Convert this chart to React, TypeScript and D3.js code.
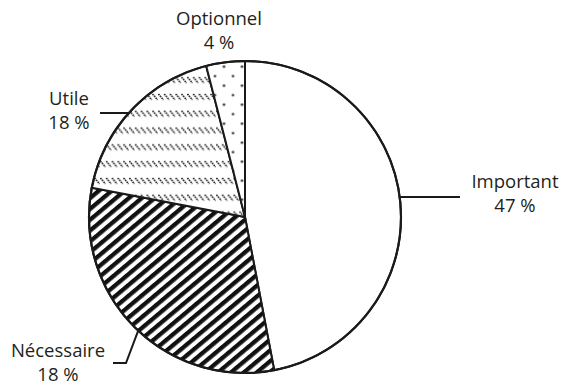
import React from 'react';
import * as d3 from 'd3';

// Slice shares (percent of the whole) in clockwise order from 12 o'clock
const categories = ['Important', 'Nécessaire', 'Utile', 'Optionnel'];
const shares = [47, 31, 18, 4];
// Percentages printed under each category name
const percentLabels = ['47 %', '18 %', '18 %', '4 %'];
const fills = ['#ffffff', 'url(#stripes)', 'url(#dashes)', 'url(#dots)'];

const W = 562;
const H = 385;
const cx = 245;
const cy = 217;
const R = 156;

// Label placement (centre x, first baseline y)
const labelPos = [
  { x: 515, y: 188 },
  { x: 58, y: 357 },
  { x: 69, y: 105 },
  { x: 219, y: 25 },
];

// Leader lines: anchor angle on the rim (degrees, clockwise from top) and the path toward the label
const leaders: ({ angle: number; tail: [number, number][] } | null)[] = [
  { angle: 82.6, tail: [[460, 197]] },
  { angle: 223.2, tail: [[126, 363], [113, 363]] },
  { angle: 311.8, tail: [[100, 113]] },
  null,
];

const rim = (deg: number): [number, number] => {
  const a = (deg * Math.PI) / 180;
  return [cx + R * Math.sin(a), cy - R * Math.cos(a)];
};

export default function App() {
  const pie = d3.pie<number>().sort(null).value((d) => d)(shares);
  const arc = d3.arc<d3.PieArcDatum<number>>().innerRadius(0).outerRadius(R);
  const line = d3.line();
  const textColor = '#231f20';

  return (
    <svg
      width={W}
      height={H}
      style={{ position: 'absolute', left: 0, top: 0, background: '#fff' }}
      fontFamily="'Open Sans', sans-serif"
    >
      <defs>
        <pattern
          id="stripes"
          patternUnits="userSpaceOnUse"
          width={8.3}
          height={8.3}
          patternTransform="rotate(50)"
        >
          <rect width={8.3} height={8.3} fill="#fff" />
          <line x1={2.15} y1={-1} x2={2.15} y2={9.3} stroke="#111" strokeWidth={4.3} />
        </pattern>
        <pattern id="dashes" patternUnits="userSpaceOnUse" x={0} y={128} width={5.8} height={16.8}>
          <rect width={5.8} height={16.8} fill="#fff" />
          <line x1={0.4} y1={1} x2={5.4} y2={6.8} stroke="#1a1a1a" strokeWidth={1.6} strokeDasharray="1.6 0.8" />
        </pattern>
        <pattern id="dots" patternUnits="userSpaceOnUse" x={217.5} y={63.4} width={18} height={19}>
          <rect width={18} height={19} fill="#fff" />
          <circle cx={4.5} cy={4.7} r={1.2} fill="#222" />
          <circle cx={13.5} cy={14.2} r={1.2} fill="#222" />
        </pattern>
      </defs>

      <g transform={`translate(${cx},${cy})`}>
        {pie.map((d, i) => (
          <path
            key={categories[i]}
            d={arc(d) ?? ''}
            fill={fills[i]}
            stroke="#1a1a1a"
            strokeWidth={2}
            strokeLinejoin="round"
          />
        ))}
        <circle r={R} fill="none" stroke="#1a1a1a" strokeWidth={2.2} />
      </g>

      {leaders.map((l, i) =>
        l ? (
          <path
            key={`leader-${i}`}
            d={line([rim(l.angle), ...l.tail]) ?? ''}
            fill="none"
            stroke="#1a1a1a"
            strokeWidth={2}
          />
        ) : null
      )}

      {categories.map((c, i) => (
        <text
          key={`label-${c}`}
          x={labelPos[i].x}
          y={labelPos[i].y}
          textAnchor="middle"
          fontSize={18.5}
          fill={textColor}
        >
          <tspan x={labelPos[i].x}>{c}</tspan>
          <tspan x={labelPos[i].x} dy={24}>
            {percentLabels[i]}
          </tspan>
        </text>
      ))}
    </svg>
  );
}
